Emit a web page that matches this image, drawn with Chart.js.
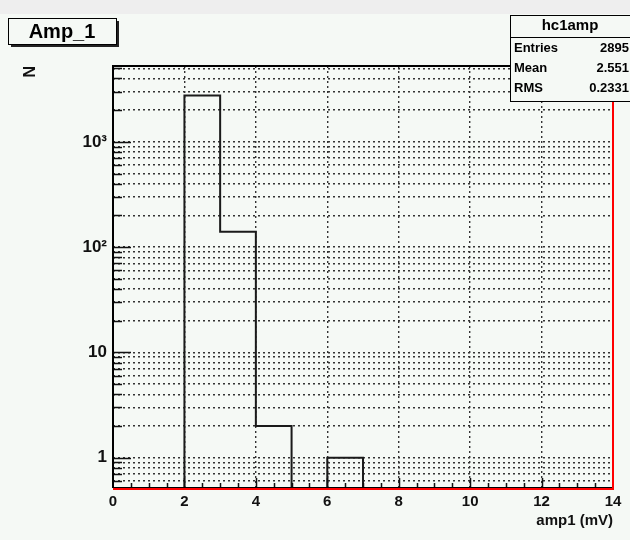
<!DOCTYPE html>
<html>
<head>
<meta charset="utf-8">
<script src="https://cdn.jsdelivr.net/npm/chart.js@4/dist/chart.umd.min.js"></script>
<style>
html, body { margin: 0; padding: 0; background: #eeeeee; }
#ampChart { display: block; }
</style>
</head>
<body>
<canvas id="ampChart" width="630" height="540"></canvas>
<script>
// histogram hc1amp, 1 mV bins from 0 to 14
const binEdges = [0, 1, 2, 3, 4, 5, 6, 7, 8, 9, 10, 11, 12, 13, 14];
const binCounts = [0, 0, 2752, 140, 2, 0, 1, 0, 0, 0, 0, 0, 0, 0];

const xTickValues = [0, 2, 4, 6, 8, 10, 12, 14];
const yDecades = [1, 10, 100, 1000];
const yDecadeLabels = ['1', '10', '10²', '10³'];
const yMinorSteps = [2, 3, 4, 5, 6, 7, 8, 9];

const histTitle = 'Amp_1';
const histName = 'hc1amp';
const statNames = ['Entries', 'Mean', 'RMS'];
const statValues = ['2895', '2.551', '0.2331'];

const xTitle = 'amp1 (mV)';
const yTitle = 'N';

const FONT = '"Liberation Sans", Arial, Helvetica, sans-serif';
const PAD_BG = '#f5f9f5';
const FLOOR = 0.01; // empty bins sit below the axis (log scale)

// grid positions on the log axis: 0.6..0.9, then 1..9 for every decade, up to 5000
const yGridValues = [0.6, 0.7, 0.8, 0.9];
yDecades.forEach(d => {
    yGridValues.push(d);
    yMinorSteps.forEach(m => { if (d * m <= 5000) yGridValues.push(d * m); });
});

// step outline points: left edge of each bin with its count, closed at the last edge
const histPoints = binCounts.map((c, i) => ({ x: binEdges[i], y: c > 0 ? c : FLOOR }));
histPoints.push({ x: binEdges[binEdges.length - 1], y: FLOOR });

const rootDecor = {
    id: 'rootDecor',
    beforeDraw(chart) {
        const ctx = chart.ctx;
        ctx.save();
        ctx.fillStyle = '#eeeeee';
        ctx.fillRect(0, 0, chart.width, chart.height);
        ctx.fillStyle = PAD_BG;
        ctx.fillRect(0, 14, chart.width, chart.height - 14);
        ctx.restore();
    },
    afterDraw(chart) {
        const ctx = chart.ctx;
        const area = chart.chartArea;
        const xs = chart.scales.x;
        const ys = chart.scales.y;
        ctx.save();

        // tick marks drawn inside the frame
        ctx.strokeStyle = '#111';
        ctx.lineWidth = 1.5;
        ctx.beginPath();
        yGridValues.forEach(v => {
            const py = Math.round(ys.getPixelForValue(v)) + 0.5;
            const len = yDecades.includes(v) ? 18 : 9;
            ctx.moveTo(area.left, py);
            ctx.lineTo(area.left + len, py);
        });
        for (let v = 0.5; v < 14; v += 0.5) {
            const px = Math.round(xs.getPixelForValue(v)) + 0.5;
            const len = (v % 2 === 0) ? 10 : 5;
            ctx.moveTo(px, area.bottom);
            ctx.lineTo(px, area.bottom - len);
        }
        ctx.stroke();

        // frame: black left/top, red bottom/right
        ctx.lineWidth = 2;
        ctx.strokeStyle = '#000';
        ctx.beginPath();
        ctx.moveTo(area.left, area.bottom);
        ctx.lineTo(area.left, area.top);
        ctx.lineTo(area.right, area.top);
        ctx.stroke();
        ctx.lineWidth = 1;
        ctx.beginPath();
        ctx.moveTo(area.left, area.bottom - 0.5);
        ctx.lineTo(area.right, area.bottom - 0.5);
        ctx.stroke();
        ctx.lineWidth = 2;
        ctx.strokeStyle = '#ff0000';
        ctx.beginPath();
        ctx.moveTo(area.left, area.bottom + 1);
        ctx.lineTo(area.right, area.bottom + 1);
        ctx.lineTo(area.right, area.top);
        ctx.stroke();

        // title box with shadow
        const bx = 8, by = 18, bw = 108, bh = 26;
        ctx.fillStyle = '#222';
        ctx.fillRect(bx + 3, by + 3, bw, bh);
        ctx.fillStyle = PAD_BG;
        ctx.fillRect(bx, by, bw, bh);
        ctx.lineWidth = 1;
        ctx.strokeStyle = '#000';
        ctx.strokeRect(bx + 0.5, by + 0.5, bw, bh);
        ctx.fillStyle = '#000';
        ctx.font = 'bold 20px ' + FONT;
        ctx.textAlign = 'center';
        ctx.textBaseline = 'middle';
        ctx.fillText(histTitle, bx + bw / 2, by + bh / 2 + 1);

        // stats box
        const sx = 510, sy = 15, sw = 122, sh = 86;
        ctx.fillStyle = PAD_BG;
        ctx.fillRect(sx, sy, sw, sh);
        ctx.strokeStyle = '#000';
        ctx.strokeRect(sx + 0.5, sy + 0.5, sw, sh);
        ctx.beginPath();
        ctx.moveTo(sx, sy + 22.5);
        ctx.lineTo(sx + sw, sy + 22.5);
        ctx.stroke();
        ctx.fillStyle = '#000';
        ctx.font = 'bold 15px ' + FONT;
        ctx.textAlign = 'center';
        ctx.fillText(histName, sx + 60, sy + 11);
        ctx.font = 'bold 13px ' + FONT;
        statNames.forEach((name, i) => {
            const ry = sy + 33 + i * 20;
            ctx.textAlign = 'left';
            ctx.fillText(name, sx + 4, ry);
            ctx.textAlign = 'right';
            ctx.fillText(statValues[i], 629, ry);
        });

        ctx.restore();
    }
};

const ctx = document.getElementById('ampChart').getContext('2d');
const chart = new Chart(ctx, {
    type: 'line',
    data: {
        datasets: [{
            label: histName,
            data: histPoints,
            stepped: 'before',
            borderColor: '#1a1a1a',
            borderWidth: 2,
            pointRadius: 0,
            fill: false,
            clip: 0
        }]
    },
    options: {
        responsive: false,
        animation: false,
        events: [],
        layout: { padding: { left: 0, top: 66, right: 17, bottom: 0 } },
        plugins: {
            legend: { display: false },
            tooltip: { enabled: false }
        },
        scales: {
            x: {
                type: 'linear',
                min: 0,
                max: 14,
                afterBuildTicks: s => { s.ticks = xTickValues.map(v => ({ value: v })); },
                afterFit: s => { s.height = 52; },
                ticks: {
                    color: '#111',
                    padding: 5,
                    maxRotation: 0,
                    autoSkip: false,
                    font: { family: FONT, size: 15, weight: 'bold' }
                },
                grid: { color: '#333', lineWidth: 1.4, drawTicks: false },
                border: { display: false, dash: [2, 3] },
                title: {
                    display: true,
                    text: xTitle,
                    align: 'end',
                    color: '#111',
                    padding: { top: 0, bottom: 10 },
                    font: { family: FONT, size: 15, weight: 'bold' }
                }
            },
            y: {
                type: 'logarithmic',
                min: 0.515,
                max: 5250,
                afterBuildTicks: s => { s.ticks = yGridValues.map(v => ({ value: v })); },
                afterFit: s => { s.width = 113; },
                ticks: {
                    color: '#111',
                    padding: 6,
                    autoSkip: false,
                    font: { family: FONT, size: 17, weight: 'bold' },
                    callback: v => {
                        const i = yDecades.indexOf(v);
                        return i >= 0 ? yDecadeLabels[i] : '';
                    }
                },
                grid: { color: '#333', lineWidth: 1.4, drawTicks: false },
                border: { display: false, dash: [2, 3] },
                title: {
                    display: true,
                    text: yTitle,
                    align: 'end',
                    color: '#111',
                    padding: { top: 21, bottom: 0 },
                    font: { family: FONT, size: 16, weight: 'bold' }
                }
            }
        }
    },
    plugins: [rootDecor]
});
</script>
</body>
</html>
